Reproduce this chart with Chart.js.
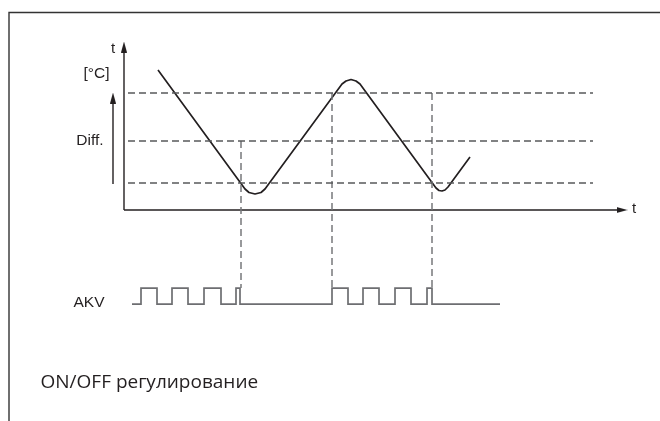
<!DOCTYPE html>
<html>
<head>
<meta charset="utf-8">
<script src="https://cdn.jsdelivr.net/npm/chart.js@4.4.1/dist/chart.umd.min.js"></script>
<style>
  html, body { margin: 0; padding: 0; background: #ffffff; }
  #wrap { width: 660px; height: 421px; position: relative; }
</style>
</head>
<body>
<div id="wrap"><canvas id="onoff-chart"></canvas></div>
<script>
// Diagram units: time along x (y-axis at 0), temperature along y (x-axis at 0)
const X_MIN = -12.4
const X_MAX = 53.6
const Y_MIN = -21.1
const Y_MAX = 21.0

// Thermostat levels
const cutOut = 11.7
const diffMid = 6.9
const cutIn = 2.7
const levelStart = 0.4
const levelEnd = 46.9

// Temperature curve
const tempTime = [3.4, 12.1, 12.5, 13.1, 13.7, 14.1, 21.8, 22.2, 22.7, 23.2, 23.6, 31.2, 31.5, 31.8, 32.1, 32.4, 34.6]
const tempValue = [14.0, 2.1, 1.75, 1.6, 1.75, 2.1, 12.6, 12.9, 13.05, 12.9, 12.6, 2.2, 1.95, 1.9, 2.0, 2.3, 5.3]

// Switching moments (vertical dashed lines)
const switchTime = [11.7, 20.8, 30.8]
const switchTop = [diffMid, cutOut, cutOut]
const switchBottom = -7.8

// AKV valve signal (1 = open, 0 = closed), stepped
const akvTime = [0.8, 1.7, 3.3, 4.8, 6.4, 8.0, 9.7, 11.2, 11.6, 20.8, 22.4, 23.9, 25.5, 27.1, 28.7, 30.3, 30.8, 37.6]
const akvState = [0, 1, 0, 1, 0, 1, 0, 1, 0, 1, 0, 1, 0, 1, 0, 1, 0, 0]
const AKV_MIN = -7.3
const AKV_MAX = 19

// Axis ends
const yAxisTop = 16.0
const xAxisEnd = 49.5
const diffX = -1.1

// Frame position
const frameX = -11.5
const frameY = 19.75

// Texts
const labels = [
  { text: "t", x: -1.1, y: 16.1, font: "15px 'Liberation Sans'", align: "center" },
  { text: "[°C]", x: -2.75, y: 13.6, font: "15.5px 'Liberation Sans'", align: "center" },
  { text: "Diff.", x: -3.4, y: 6.9, font: "15.5px 'Liberation Sans'", align: "center" },
  { text: "AKV", x: -3.5, y: -9.3, font: "15.5px 'Liberation Sans'", align: "center" },
  { text: "t", x: 50.8, y: 0.1, font: "15px 'Liberation Sans'", align: "left" },
  { text: "ON/OFF регулирование", x: -8.35, y: -17.3, font: "19px 'Open Sans'", align: "left" },
]

document.addEventListener("DOMContentLoaded", () => {
  const dark = "#231f20"
  const dashGray = "#58595b"
  const lightGray = "#77787b"

  // narrow arrow head as point image
  function makeArrow(len, width, color) {
    const c = document.createElement("canvas")
    c.width = width
    c.height = len
    const g = c.getContext("2d")
    g.fillStyle = color
    g.beginPath()
    g.moveTo(width / 2, 0)
    g.lineTo(width, len)
    g.lineTo(0, len)
    g.closePath()
    g.fill()
    return c
  }
  const arrow = makeArrow(11, 6, dark)

  function seg(x1, y1, x2, y2) {
    return [{ x: x1, y: y1 }, { x: x2, y: y2 }]
  }

  const lineBase = { type: "line", pointRadius: 0, fill: false, tension: 0, borderCapStyle: "butt" }
  const datasets = []

  // frame
  datasets.push({ ...lineBase, data: [{ x: frameX, y: Y_MIN }, { x: frameX, y: frameY }, { x: X_MAX, y: frameY }], borderColor: "#333", borderWidth: 1.4 })

  // level lines
  ;[cutOut, diffMid, cutIn].forEach((lvl) => {
    datasets.push({ ...lineBase, data: seg(levelStart, lvl, levelEnd, lvl), borderColor: dashGray, borderWidth: 1.3, borderDash: [7, 4] })
  })

  // switching lines
  switchTime.forEach((t, i) => {
    datasets.push({ ...lineBase, data: seg(t, switchTop[i], t, switchBottom), borderColor: lightGray, borderWidth: 1.5, borderDash: [7, 4] })
  })

  // axes
  datasets.push({ ...lineBase, data: seg(0, 0, 0, yAxisTop), borderColor: dark, borderWidth: 1.4 })
  datasets.push({ ...lineBase, data: seg(0, 0, xAxisEnd, 0), borderColor: dark, borderWidth: 1.4 })
  datasets.push({ ...lineBase, data: seg(diffX, 2.6, diffX, 11.0), borderColor: dark, borderWidth: 1.4 })

  // arrow heads
  datasets.push({ type: "scatter", data: [{ x: 0, y: 16.3 }, { x: diffX, y: 11.2 }], pointStyle: arrow, rotation: 0 })
  datasets.push({ type: "scatter", data: [{ x: 49.8, y: 0 }], pointStyle: arrow, rotation: 90 })

  // temperature
  datasets.push({ ...lineBase, data: tempTime.map((t, i) => ({ x: t, y: tempValue[i] })), borderColor: dark, borderWidth: 1.7, borderJoinStyle: "round" })

  // AKV
  datasets.push({ ...lineBase, data: akvTime.map((t, i) => ({ x: t, y: akvState[i] })), yAxisID: "akv", stepped: true, borderColor: "#6d6e71", borderWidth: 1.7 })

  const labelPlugin = {
    id: "labelText",
    afterDatasetsDraw(chart) {
      const { ctx, scales } = chart
      ctx.save()
      ctx.fillStyle = "#231f20"
      ctx.textBaseline = "middle"
      labels.forEach((l) => {
        ctx.font = l.font
        ctx.textAlign = l.align
        ctx.fillText(l.text, scales.x.getPixelForValue(l.x), scales.y.getPixelForValue(l.y))
      })
      ctx.restore()
    },
  }

  new Chart(document.getElementById("onoff-chart"), {
    type: "line",
    data: { datasets },
    options: {
      responsive: true,
      maintainAspectRatio: false,
      animation: false,
      events: [],
      layout: { padding: 0, autoPadding: false },
      plugins: { legend: { display: false }, tooltip: { enabled: false } },
      scales: {
        x: { type: "linear", min: X_MIN, max: X_MAX, display: false },
        y: { type: "linear", min: Y_MIN, max: Y_MAX, display: false },
        akv: { type: "linear", min: AKV_MIN, max: AKV_MAX, display: false },
      },
    },
    plugins: [labelPlugin],
  })
})
</script>
</body>
</html>
